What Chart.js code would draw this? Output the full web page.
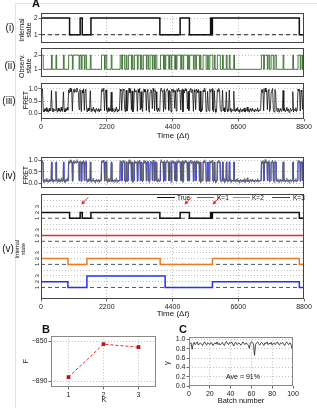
<!DOCTYPE html>
<html>
<head>
<meta charset="utf-8">
<title>HMM FRET figure</title>
<script src="https://cdn.jsdelivr.net/npm/chart.js@4/dist/chart.umd.min.js"></script>
<style>
  body { margin: 0; background: #fff; font-family: "Liberation Sans", Arial, sans-serif; }
  #page { position: relative; width: 317px; height: 408px; overflow: hidden; }
  .box { position: absolute; }
  .t { position: absolute; white-space: nowrap; color: #111; line-height: 1; transform: translate(-50%, -50%); }
  .rot { transform: translate(-50%, -50%) rotate(-90deg); text-align: center; }
  .lab { font-weight: bold; font-size: 11px; transform: none; }
  .lt { transform: translate(0, -50%); }
  .leg { position: absolute; height: 0; border-top: 1.5px solid; }
</style>
</head>
<body>
<div id="page">
  <div style="position:absolute;left:15px;top:3px;width:310px;height:410px;border-left:1px solid #e4e4e4;border-top:1px solid #e4e4e4"></div>

  <div class="box" id="bI"><canvas id="cI"></canvas></div>
  <div class="box" id="bII"><canvas id="cII"></canvas></div>
  <div class="box" id="bIII"><canvas id="cIII"></canvas></div>
  <div class="box" id="bIV"><canvas id="cIV"></canvas></div>
  <div class="box" id="bV"><canvas id="cV"></canvas></div>
  <div class="box" id="bB"><canvas id="cB"></canvas></div>
  <div class="box" id="bC"><canvas id="cC"></canvas></div>

  <div class="t lab" style="left:32px;top:-2px">A</div>
  <div class="t" style="left:10px;top:28px;font-size:10px">(i)</div>
  <div class="t" style="left:10px;top:66px;font-size:10px">(ii)</div>
  <div class="t" style="left:9px;top:101px;font-size:10px">(iii)</div>
  <div class="t rot" style="left:25px;top:30px;font-size:7px;line-height:7px">Internal<br>state</div>
  <div class="t rot" style="left:25px;top:66px;font-size:7px;line-height:7px">Observ.<br>state</div>
  <div class="t rot" style="left:25px;top:100px;font-size:7px">FRET</div>
  <div class="t" style="left:173px;top:136px;font-size:8px">Time (Δ<i>t</i>)</div>

  <div class="t" style="left:9px;top:176px;font-size:10px">(iv)</div>
  <div class="t rot" style="left:25px;top:175px;font-size:7px">FRET</div>

  <div class="t" style="left:8px;top:249px;font-size:10px">(v)</div>
  <div class="t rot" style="left:20px;top:249px;font-size:5.5px;line-height:5.5px">Internal<br>state</div>
  <div class="t" style="left:173px;top:314px;font-size:8px">Time (Δ<i>t</i>)</div>

  <div class="leg" style="left:157px;top:197px;width:18px;border-color:#111"></div>
  <div class="t lt" style="left:177px;top:197.5px;font-size:6.5px">True</div>
  <div class="leg" style="left:197px;top:197px;width:17px;border-color:#e0302c"></div>
  <div class="t lt" style="left:217px;top:197.5px;font-size:6.5px">K=1</div>
  <div class="leg" style="left:233px;top:197px;width:17px;border-color:#ec7a22"></div>
  <div class="t lt" style="left:252px;top:197.5px;font-size:6.5px">K=2</div>
  <div class="leg" style="left:272px;top:197px;width:18px;border-color:#2236e8"></div>
  <div class="t lt" style="left:293px;top:197.5px;font-size:6.5px">K=3</div>

  <div class="t lab" style="left:42px;top:324px">B</div>
  <div class="t rot" style="left:25px;top:361px;font-size:7px">F</div>
  <div class="t" style="left:104px;top:400px;font-size:7.5px">K</div>

  <div class="t lab" style="left:179px;top:324px">C</div>
  <div class="t rot" style="left:167px;top:363px;font-size:7.5px">γ</div>
  <div class="t" style="left:241px;top:401px;font-size:7.5px">Batch number</div>
  <div class="t" style="left:243px;top:376px;font-size:7px">Ave = 91%</div>
</div>

<script>
// ---- data ----
const timeTicks = [0, 2200, 4400, 6600, 8800];

// true internal state (i) and (v): switch times and the state from that time on
const trueT = [0, 956, 1310, 1380, 1671, 3977, 4655, 4966, 5675, 5700, 5735, 8643, 8800];
const trueS = [2, 1, 2, 1, 2, 1, 2, 1, 2, 1, 2, 1, 1];
// inferred internal states for K = 1, 2, 3
const k1T = [0, 8800];
const k1S = [2, 2];
const k2T = [0, 901, 1536, 3987, 5736, 8643, 8800];
const k2S = [2, 1, 2, 1, 2, 1, 1];
const k3T = [0, 901, 1536, 4154, 5736, 8643, 8800];
const k3S = [2, 1, 3, 1, 2, 1, 1];
const arrowT = [1347, 4800, 5740];

// observed state (ii): time intervals spent in state 2
const obsHigh = [[0,75],[350,375],[500,525],[750,775],[925,1050],[1075,1275],[1300,1350],[1375,1450],
  [1475,1525],[1650,1675],[2025,2125],[2150,2200],[2350,2375],[2650,2700],[2725,2800],[2850,2875],
  [2925,3025],[3050,3075],[3125,3225],[3250,3325],[3350,3375],[3425,3525],[3550,3600],[3650,3725],
  [3750,3800],[3825,3875],[4000,4100],[4125,4150],[4175,4275],[4300,4350],[4375,4475],[4500,4525],
  [4550,4675],[4700,4750],[4775,4900],[4925,4950],[4975,5100],[5125,5175],[5200,5300],[5325,5350],
  [5425,5525],[5575,5600],[5650,5750],[5800,5825],[5900,6000],[6075,6100],[6200,6225],[6300,6325],
  [6450,6475],[7375,7450],[7475,7575],[7600,7650],[7700,7775],[7825,7875],[8100,8125],[8425,8450],
  [8600,8675],[8700,8750],[8775,8800]];
const fitLevels = [0.12, 0.93]; // blue fit in (iv), low / high

// FRET trace, one sample every 25 time units, in percent
const fretStep = 25;
const fretPct = [
  98,92,101, 12,4,18,9,22,6,14,3,19,8,15, 94, 7,20,5,16,11, 90, 13,3,21,8,17,5,24,10,6, 88,
  15,4,19,9,23,12, 96,84,103,89,99, 8, 91,100,85,97,88,104,93,86, 14, 98,90, 6, 95,83,101, 11,
  92,99, 17,4,21,9,13, 93, 5,18,10,24,7,15,2,20,12,8,19,4,16,11, 97,89,102,94, 9, 88,96,
  14,3,22,7,17,10, 87, 6,20,12,4,18,9,25,5,15,8,13, 99,91, 10, 86,100,93, 16,5, 95, 8,19,
  90,103,84,97, 12, 92, 4,17, 101,88,95,91, 7, 98,85,102, 13, 89, 20,6, 94,100,87,96, 10,
  91,99, 15,3, 86,97,93, 18, 102,90, 9, 95,88, 14,5,21,8,12, 97,104,89,93, 6, 99, 16,
  85,96,101,92, 11, 94,87, 4, 100,90,97,86, 19, 93, 8, 98,88,103,91,95, 13, 87,99, 5,
  96,84,101,92,97, 17, 90, 10, 94,102,86,99,91, 7, 97,89, 14, 100,93,85,98, 9, 92, 4,18,11,
  96,88,103,94, 6,15, 90, 20,8, 99,87,95,101, 12,5, 93, 17,3,10, 97,89,102,91, 14,7,19, 95,
  9,22,4,13, 88, 16,6,11, 96, 8,20,3,15,10, 91,
  12,5,18,9,23,7,14,2,19,11,6,16,8,21,4,13,10,25,7,15,3,18,12,6,20,9,14,4,17,11,8,22,5,13,10,16,
  97,86,100, 9, 93,104,88,96, 14, 91,99, 6,17, 87,95,102, 11,4, 98,90, 15,7,21,10,3,18,12,6,16,
  94, 9,20,5,13,24,8,17,2,11,19,7,14, 89, 4,16,10,22,6,12, 100,92,97, 8, 95,87, 15, 99
];

// B: free energy vs K
const kVals = [1, 2, 3];
const freeEnergy = [-886, -853, -856];
const fTicks = [-890, -850];

// C: accuracy per batch, percent
const batchAcc = [
  91,93,79,90,94,89,92,95,88,91, 93,90,87,92,95,90,88,93,91,89,
  94,92,87,91,93,90,95,89,92,88, 91,94,90,87,93,96,91,89,94,92,
  95,90,86,92,94,89,91,93,90,88, 92,95,91,89,93,90,88,81,92,95,
  94,90,66,89,93,95,91,88,92,94, 90,87,93,91,95,89,92,90,94,88,
  91,93,89,92,95,90,88,93,91,94, 90,87,92,95,91,89,93,90,81,90
];
const accTicks = [0, 0.2, 0.4, 0.6, 0.8, 1.0];
const batchTicks = [0, 20, 40, 60, 80, 100];

// ---- helpers ----
Chart.defaults.font.family = '"Liberation Sans", Arial, sans-serif';
Chart.defaults.font.size = 7;
Chart.defaults.color = '#222';
Chart.defaults.animation = false;
Chart.defaults.responsive = true;
Chart.defaults.maintainAspectRatio = false;
Chart.defaults.plugins.legend.display = false;
Chart.defaults.plugins.tooltip.enabled = false;
Chart.defaults.elements.point.radius = 0;
Chart.defaults.elements.line.tension = 0;

const frame = {
  id: 'frame',
  afterDatasetsDraw(chart, args, o) {
    const a = chart.chartArea, c = chart.ctx;
    c.save();
    c.strokeStyle = o.color || '#444';
    c.lineWidth = 1;
    c.strokeRect(Math.round(a.left) + 0.5, Math.round(a.top) + 0.5, Math.round(a.width) - 1, Math.round(a.height) - 1);
    c.restore();
  }
};
Chart.register(frame);

function place(id, L, T, R, B, padB, CL, CW) {
  const d = document.getElementById(id);
  d.style.left = CL + 'px';
  d.style.top = (T - 5) + 'px';
  d.style.width = CW + 'px';
  d.style.height = (B - T + 5 + padB) + 'px';
  return { yW: L - CL, right: CL + CW - R, padB: padB };
}

function edgeHide(lo, hi) {
  return c => (c.tick && (c.tick.value === lo || c.tick.value === hi)) ? 'rgba(0,0,0,0)' : '#b0b0b0';
}

function linAxis(min, max, ticks, opts) {
  return {
    type: 'linear', min: min, max: max,
    afterBuildTicks: s => { s.ticks = ticks.map(v => ({ value: v })); },
    grid: { color: edgeHide(min, max), lineWidth: 0.8, drawTicks: opts.drawTicks !== false, tickLength: 2.5, tickColor: '#444' },
    border: { display: false, dash: [1, 2] },
    ticks: { display: opts.labels !== false, padding: 1.5, autoSkip: false, maxRotation: 0,
             callback: opts.fmt || (v => String(v)), font: { size: opts.size || 7 } }
  };
}

function timeAxis(lay, labels) {
  const ax = linAxis(0, 8800, timeTicks, { labels: labels, drawTicks: labels });
  ax.afterFit = s => { s.height = lay.padB; };
  return ax;
}

function yAxis(lay, min, max, ticks, fmt, size) {
  const ax = linAxis(min, max, ticks, { fmt: fmt, size: size || 6.5 });
  ax.ticks.padding = 1;
  ax.afterFit = s => { s.width = lay.yW; };
  return ax;
}

function opts(lay, x, y, extra) {
  return Object.assign({
    layout: { padding: { top: 5, right: lay.right, left: 0, bottom: 0 } },
    scales: { x: x, y: y },
    plugins: { frame: { color: '#444' } }
  }, extra || {});
}

function steps(T, S, off) {
  return T.map((t, i) => ({ x: t, y: S[i] + off }));
}

function obsSteps(lo, hi) {
  const pts = [];
  obsHigh.forEach(([a, b]) => {
    pts.push({ x: a, y: hi });
    pts.push({ x: b, y: b >= 8800 ? hi : lo });
  });
  if (pts[0].x > 0) pts.unshift({ x: 0, y: lo });
  const last = pts[pts.length - 1];
  if (last.x < 8800) pts.push({ x: 8800, y: last.y });
  return pts;
}

const fretPts = fretPct.map((v, i) => ({ x: i * fretStep, y: v / 100 }));
const hline = (v) => [{ x: 0, y: v }, { x: 8800, y: v }];
const fmt1 = v => v.toFixed(1);

// (i) true internal state
let lay = place('bI', 41, 13, 304, 48, 0, 0, 317);
new Chart(document.getElementById('cI'), {
  type: 'line',
  data: { datasets: [
    { data: steps(trueT, trueS, 0), stepped: true, borderColor: '#111', borderWidth: 1.5, order: 0 },
    { data: hline(1), borderColor: '#222', borderWidth: 1, borderDash: [4, 3], order: 1 }
  ] },
  options: opts(lay, timeAxis(lay, false), yAxis(lay, 0.5, 2.3, [1, 2]))
});

// (ii) observed state
lay = place('bII', 41, 48, 304, 82, 0, 0, 317);
new Chart(document.getElementById('cII'), {
  type: 'line',
  data: { datasets: [
    { data: obsSteps(1, 2), stepped: true, borderColor: 'rgba(34,95,22,0.9)', borderWidth: 0.9 }
  ] },
  options: opts(lay, timeAxis(lay, false), yAxis(lay, 0.45, 2.5, [1, 2]))
});

// (iii) FRET
lay = place('bIII', 41, 83, 304, 119, 12, 0, 317);
new Chart(document.getElementById('cIII'), {
  type: 'line',
  data: { datasets: [
    { data: fretPts, borderColor: '#111', borderWidth: 0.8 }
  ] },
  options: opts(lay, timeAxis(lay, true), yAxis(lay, -0.25, 1.25, [0, 0.5, 1], fmt1))
});

// (iv) FRET with fit
lay = place('bIV', 41, 157, 304, 193, 0, 0, 317);
new Chart(document.getElementById('cIV'), {
  type: 'line',
  data: { datasets: [
    { data: fretPts, borderColor: 'rgba(95,95,95,0.95)', borderWidth: 0.8, order: 0 },
    { data: obsSteps(fitLevels[0], fitLevels[1]), stepped: true, borderColor: 'rgba(30,40,235,0.9)', borderWidth: 1, order: 1 }
  ] },
  options: opts(lay, timeAxis(lay, false), yAxis(lay, -0.2, 1.15, [0, 0.5, 1], fmt1))
});

// (v) inferred internal states, stacked
const vOffsets = [12, 8, 4, 0];
const vGrid = [];
vOffsets.forEach(o => { vGrid.push(o + 2, o + 3, o + 4); });
const vLabels = {
  id: 'vLabels',
  afterDraw(chart) {
    const c = chart.ctx, ys = chart.scales.y, xs = chart.scales.x;
    c.save();
    c.fillStyle = '#222';
    c.font = '6px "Liberation Sans", Arial, sans-serif';
    c.textAlign = 'center';
    c.textBaseline = 'middle';
    vOffsets.forEach(o => {
      [1, 2, 3].forEach(s => {
        c.save();
        c.translate(chart.chartArea.left - 4, ys.getPixelForValue(o + s));
        c.rotate(-Math.PI / 2);
        c.fillText(String(s), 0, 0);
        c.restore();
      });
    });
    c.strokeStyle = '#e8262a';
    c.fillStyle = '#e8262a';
    c.lineWidth = 1;
    arrowT.forEach(t => {
      const x = xs.getPixelForValue(t), y = ys.getPixelForValue(15.4);
      c.beginPath();
      c.moveTo(x + 7, y - 7);
      c.lineTo(x + 2, y - 2);
      c.stroke();
      c.beginPath();
      c.moveTo(x, y);
      c.lineTo(x + 4, y - 1.2);
      c.lineTo(x + 1.2, y - 4);
      c.closePath();
      c.fill();
    });
    c.restore();
  }
};
lay = place('bV', 41, 194, 304, 299, 12, 0, 317);
const yV = yAxis(lay, -1, 17.2, vGrid);
yV.ticks.display = false;
yV.grid.drawTicks = false;
new Chart(document.getElementById('cV'), {
  type: 'line',
  data: { datasets: [
    { data: steps(trueT, trueS, 12), stepped: true, borderColor: '#111', borderWidth: 1.5, order: 0 },
    { data: steps(k1T, k1S, 8), stepped: true, borderColor: '#e0302c', borderWidth: 1.5, order: 0 },
    { data: steps(k2T, k2S, 4), stepped: true, borderColor: '#ec7a22', borderWidth: 1.5, order: 0 },
    { data: steps(k3T, k3S, 0), stepped: true, borderColor: '#2236e8', borderWidth: 1.5, order: 0 },
    { data: hline(13), borderColor: '#555', borderWidth: 1, borderDash: [4, 3], order: 1 },
    { data: hline(9), borderColor: '#555', borderWidth: 1, borderDash: [4, 3], order: 1 },
    { data: hline(5), borderColor: '#555', borderWidth: 1, borderDash: [4, 3], order: 1 },
    { data: hline(1), borderColor: '#555', borderWidth: 1, borderDash: [4, 3], order: 1 }
  ] },
  options: opts(lay, timeAxis(lay, true), yV),
  plugins: [vLabels]
});

// B: free energy
lay = place('bB', 51, 336, 156, 387, 12, 20, 150);
const xB = linAxis(0.5, 3.5, kVals, {});
xB.afterFit = s => { s.height = lay.padB; };
const yB = yAxis(lay, -896, -845, fTicks, v => String(v).replace('-', '\u2212'), 7);
new Chart(document.getElementById('cB'), {
  type: 'line',
  data: { datasets: [{
    data: kVals.map((k, i) => ({ x: k, y: freeEnergy[i] })),
    borderColor: '#e0302c', borderWidth: 1, borderDash: [3, 2],
    pointStyle: 'rect', pointRadius: 2.6, pointBackgroundColor: '#b5161b', pointBorderWidth: 0
  }] },
  options: opts(lay, xB, yB, { plugins: { frame: { color: '#888' } } })
});

// C: accuracy per batch
const layC = place('bC', 189, 337, 293, 386, 12, 160, 155);
const xC = linAxis(0, 100, batchTicks, {});
xC.afterFit = s => { s.height = layC.padB; };
const yC = yAxis(layC, 0, 1.05, accTicks, fmt1, 7);
new Chart(document.getElementById('cC'), {
  type: 'line',
  data: { datasets: [{
    data: batchAcc.map((v, i) => ({ x: i + 1, y: v / 100 })),
    borderColor: '#222', borderWidth: 0.8
  }] },
  options: opts(layC, xC, yC, { plugins: { frame: { color: '#888' } } })
});
</script>
</body>
</html>
